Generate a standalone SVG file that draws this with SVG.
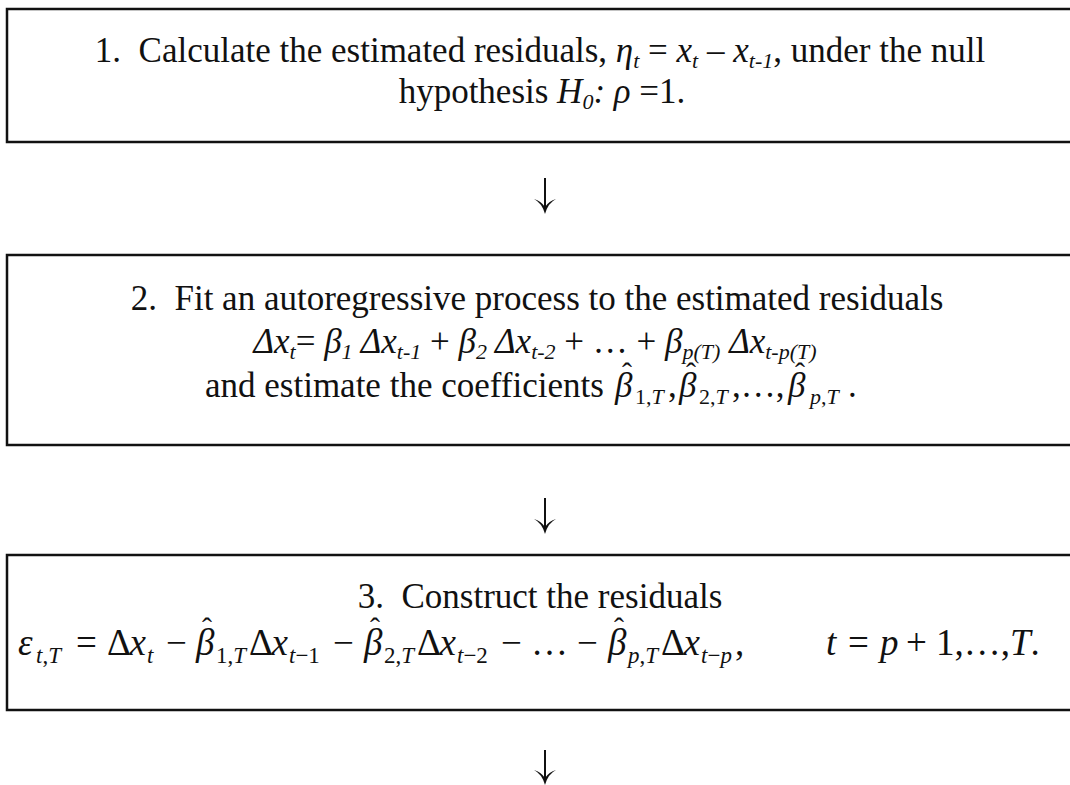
<svg xmlns="http://www.w3.org/2000/svg" width="1070" height="785" viewBox="0 0 1070 785">
<style>
.box{fill:#fff;stroke:#111;stroke-width:2.5}
.t{font-family:"Liberation Serif","Times New Roman",serif;font-size:35px;fill:#111}
.m{font-family:"Liberation Serif","Times New Roman",serif;font-size:37px;fill:#111}
.i{font-style:italic}
.s{font-size:22px;font-style:italic}
.sn{font-size:22px;font-style:normal}
.m .s{font-size:23px}
.m .sn{font-size:23px}
.hat{font-family:"Liberation Serif","Times New Roman",serif;font-size:30px;fill:#111}
.arr{stroke:#111;stroke-width:2;fill:none}
.head{fill:#111;stroke:none}
</style>
<rect width="1070" height="785" fill="#fff"/>
<g id="node1">
<rect class="box" x="7" y="9" width="1080" height="133"/>
<text class="t" x="540" y="62" text-anchor="middle" xml:space="preserve">1.  Calculate the estimated residuals, <tspan class="i">η</tspan><tspan class="s" dy="6">t</tspan><tspan dy="-6"> = </tspan><tspan class="i">x</tspan><tspan class="s" dy="6">t</tspan><tspan dy="-6"> – </tspan><tspan class="i">x</tspan><tspan class="s" dy="6">t-1</tspan><tspan dy="-6">, under the null</tspan></text>
<text class="t" x="542" y="103" text-anchor="middle" xml:space="preserve">hypothesis <tspan class="i">H</tspan><tspan class="s" dy="6">0</tspan><tspan class="i" dy="-6">:</tspan> <tspan class="i">ρ</tspan> =1.</text>
</g>
<g id="node2">
<rect class="box" x="7" y="255" width="1080" height="190"/>
<text class="t" x="537" y="310" text-anchor="middle" xml:space="preserve">2.  Fit an autoregressive process to the estimated residuals</text>
<text class="t" x="535" y="353" text-anchor="middle" xml:space="preserve"><tspan class="i">Δx</tspan><tspan class="s" dy="6">t</tspan><tspan dy="-6">= </tspan><tspan class="i">β</tspan><tspan class="s" dy="6">1</tspan><tspan class="i" dy="-6"> Δx</tspan><tspan class="s" dy="6">t-1</tspan><tspan dy="-6"> + </tspan><tspan class="i">β</tspan><tspan class="s" dy="6">2</tspan><tspan class="i" dy="-6"> Δx</tspan><tspan class="s" dy="6">t-2</tspan><tspan dy="-6"> + … + </tspan><tspan class="i">β</tspan><tspan class="s" dy="6">p(T)</tspan><tspan class="i" dy="-6"> Δx</tspan><tspan class="s" dy="6">t-p(T)</tspan></text>
<text class="t" y="397"><tspan x="205">and estimate the coefficients</tspan><tspan class="i" x="615">β</tspan><tspan class="sn" x="635" dy="7">1,</tspan><tspan class="s">T</tspan><tspan x="668" dy="-7">,</tspan><tspan class="i" x="679">β</tspan><tspan class="sn" x="699" dy="7">2,</tspan><tspan class="s">T</tspan><tspan x="732" dy="-7">,…,</tspan><tspan class="i" x="788">β</tspan><tspan class="s" x="810" dy="7">p</tspan><tspan class="sn">,</tspan><tspan class="s">T</tspan><tspan x="848" dy="-7">.</tspan></text>
<text class="hat" x="622" y="383">ˆ</text>
<text class="hat" x="686" y="383">ˆ</text>
<text class="hat" x="795" y="383">ˆ</text>
</g>
<g id="node3">
<rect class="box" x="7" y="555" width="1080" height="155"/>
<text class="t" x="540" y="608" text-anchor="middle" xml:space="preserve">3.  Construct the residuals</text>
<text class="m" y="655"><tspan class="i" x="18">ε</tspan><tspan class="s" x="36" dy="8">t</tspan><tspan class="sn">,</tspan><tspan class="s">T</tspan><tspan x="76" dy="-8">=</tspan><tspan x="107">Δ</tspan><tspan class="i" x="129.6">x</tspan><tspan class="s" x="147" dy="8">t</tspan><tspan x="166" dy="-8">−</tspan><tspan class="i" x="196">β</tspan><tspan class="sn" x="216" dy="8">1,</tspan><tspan class="s">T</tspan><tspan x="249" dy="-8">Δ</tspan><tspan class="i" x="271.6">x</tspan><tspan class="s" x="289" dy="8">t</tspan><tspan class="sn">−1</tspan><tspan x="333" dy="-8">−</tspan><tspan class="i" x="364">β</tspan><tspan class="sn" x="384" dy="8">2,</tspan><tspan class="s">T</tspan><tspan x="417" dy="-8">Δ</tspan><tspan class="i" x="439.6">x</tspan><tspan class="s" x="457" dy="8">t</tspan><tspan class="sn">−2</tspan><tspan x="501" dy="-8">−</tspan><tspan x="531">…</tspan><tspan x="577">−</tspan><tspan class="i" x="608">β</tspan><tspan class="s" x="628" dy="8">p</tspan><tspan class="sn">,</tspan><tspan class="s">T</tspan><tspan x="661" dy="-8">Δ</tspan><tspan class="i" x="683.6">x</tspan><tspan class="s" x="701" dy="8">t</tspan><tspan class="sn">−</tspan><tspan class="s">p</tspan><tspan x="735" dy="-8">,</tspan><tspan class="i" x="826">t</tspan><tspan x="848">=</tspan><tspan class="i" x="880">p</tspan><tspan x="906">+</tspan><tspan x="936">1,…,</tspan><tspan class="i">T</tspan><tspan>.</tspan></text>
<text class="hat" x="202" y="638">ˆ</text>
<text class="hat" x="370" y="638">ˆ</text>
<text class="hat" x="614" y="638">ˆ</text>
</g>
<g id="connectors">
<path class="arr" d="M545,178 V209"/>
<path class="head" d="M534,199 Q542,203 545,214 Q548,203 556,199 Q549,201 545,207 Q541,201 534,199 Z"/>
<path class="arr" d="M545,498 V529"/>
<path class="head" d="M534,519 Q542,523 545,534 Q548,523 556,519 Q549,521 545,527 Q541,521 534,519 Z"/>
<path class="arr" d="M545,750 V779"/>
<path class="head" d="M534,770 Q542,774 545,785 Q548,774 556,770 Q549,772 545,778 Q541,772 534,770 Z"/>
</g>
</svg>
